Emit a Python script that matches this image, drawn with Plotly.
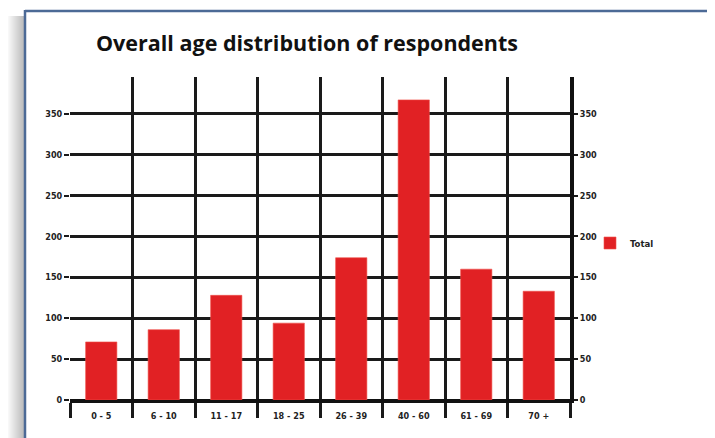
import plotly.graph_objects as go

# ---- data ----
categories = ["0 - 5", "6 - 10", "11 - 17", "18 - 25", "26 - 39", "40 - 60", "61 - 69", "70 +"]
totals = [71, 86, 128, 94, 174, 367, 160, 133]
series_name = "Total"
title_text = "Overall age distribution of respondents"
y_ticks = [0, 50, 100, 150, 200, 250, 300, 350]

OFF = 8  # page body margin
W, H = 715, 438
FW, FH = W - OFF, H - OFF
# target page-pixel geometry of plot area
PL, PR, PT, PB = 70, 570, 77, 400
L = PL - OFF
T = PT - OFF
R = FW - (PR - OFF)
B = FH - (PB - OFF)
plot_w = PR - PL
plot_h = PB - PT

def px_x(p):
    return (p - PL) / plot_w

def px_y(p):
    return (PB - p) / plot_h

tick_font = dict(family="Liberation Sans Narrow, Arial Narrow, DejaVu Sans Condensed, sans-serif",
                 size=9, color="#222222", weight="bold")

fig = go.Figure()
fig.add_trace(go.Bar(
    x=categories, y=totals, name=series_name,
    marker=dict(color="#e12124", line=dict(color="#f0504a", width=0.6)),
    width=0.5, yaxis="y",
))
fig.add_trace(go.Bar(x=categories, y=[0] * len(categories), yaxis="y2",
                     showlegend=False, hoverinfo="skip", marker=dict(opacity=0)))

yr = [0, 395]
fig.update_layout(
    width=FW, height=FH,
    margin=dict(l=L, r=R, t=T, b=B),
    paper_bgcolor="white", plot_bgcolor="white",
    title=dict(text="<b>" + title_text + "</b>", xref="container", yref="container",
               x=(96 - OFF) / FW, xanchor="left", y=1 - (43 - OFF) / FH, yanchor="middle",
               font=dict(family="Open Sans, Noto Sans, sans-serif", size=21.5, color="#111111")),
    barmode="overlay",
    showlegend=True,
    legend=dict(x=px_x(590), y=px_y(243), xanchor="left", yanchor="middle",
                font=dict(tick_font, size=9.5), itemwidth=30, bgcolor="rgba(0,0,0,0)"),
    xaxis=dict(type="category", tickson="boundaries", showgrid=True, gridcolor="#1a1a1a",
               gridwidth=2.5, ticks="outside", ticklen=15, tickwidth=2.5, tickcolor="#1a1a1a",
               showline=True, linecolor="#111111", linewidth=3, tickfont=tick_font,
               ticklabelstandoff=5,
               range=[-0.5, 7.5], fixedrange=True),
    yaxis=dict(range=yr, tickvals=y_ticks, showgrid=True, gridcolor="#1a1a1a", gridwidth=2.5,
               ticks="outside", ticklen=5, tickwidth=2, tickcolor="#1a1a1a",
               showline=False, zeroline=True, zerolinecolor="#111111", zerolinewidth=3,
               tickfont=tick_font),
    yaxis2=dict(range=yr, tickvals=y_ticks, overlaying="y", side="right", showgrid=False,
                ticks="outside", ticklen=4, tickwidth=2, tickcolor="#1a1a1a",
                showline=True, linecolor="#111111", linewidth=4, zeroline=False,
                tickfont=tick_font),
)

# frame of the screenshot: left shadow and blue border
shapes = []
for i in range(17):
    a = 0.02 + 0.024 * i
    shapes.append(dict(type="rect", xref="paper", yref="paper",
                       x0=px_x(7 + i), x1=px_x(8 + i), y0=px_y(H + 2), y1=px_y(16),
                       line=dict(width=0), fillcolor=f"rgba(90,90,90,{a:.3f})", layer="below"))
shapes.append(dict(type="line", xref="paper", yref="paper", x0=px_x(25), x1=px_x(W + 2),
                   y0=px_y(11), y1=px_y(11), line=dict(color="#4c6a96", width=2.5)))
shapes.append(dict(type="line", xref="paper", yref="paper", x0=px_x(25), x1=px_x(25),
                   y0=px_y(10), y1=px_y(H + 2), line=dict(color="#4c6a96", width=2.5)))
fig.update_layout(shapes=shapes)

fig.write_html("out.html")
